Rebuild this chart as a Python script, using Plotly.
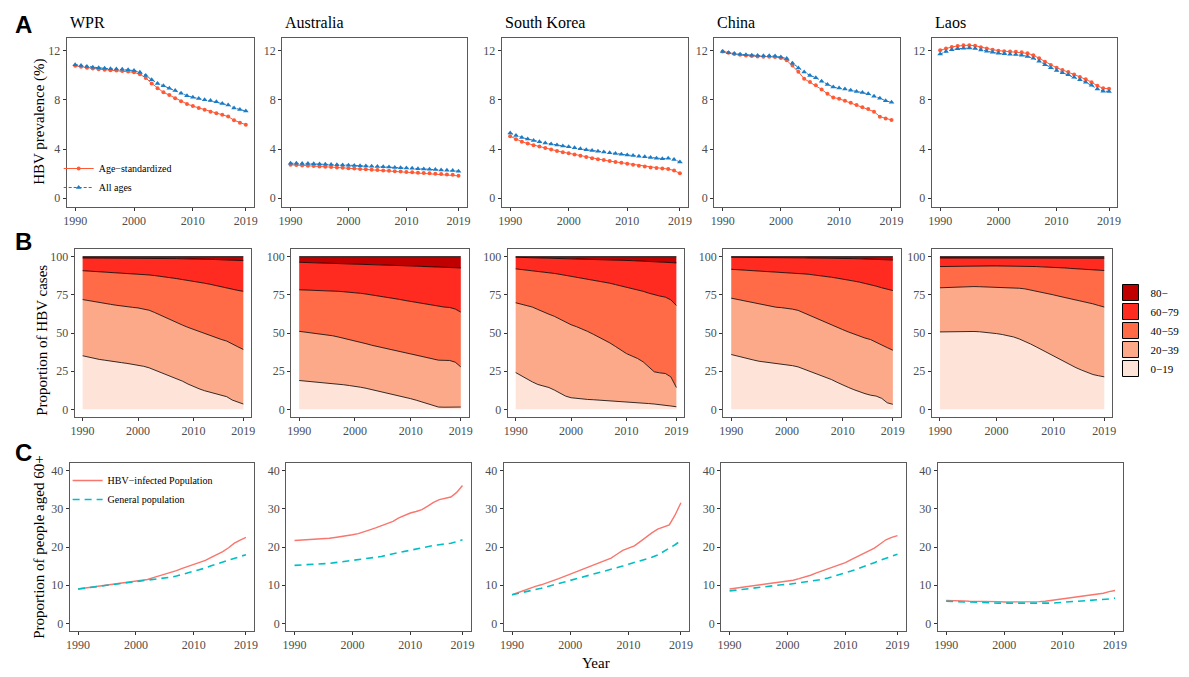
import numpy as np
import plotly.graph_objects as go

# The page body adds an 8px margin; figure sized so that it fits the 1189x677 window exactly.
OFF = 8
W, H = 1189 - OFF, 677 - OFF

years = list(range(1990, 2020))
regions = ["WPR", "Australia", "South Korea", "China", "Laos"]
x_ticks = [1990, 2000, 2010, 2019]

# ---------------- Row A: HBV prevalence (%) ----------------
prev_std = {
    "WPR": [10.78, 10.70, 10.62, 10.56, 10.51, 10.47, 10.43, 10.40, 10.37, 10.32, 10.25, 10.10, 9.80, 9.35, 8.95,
            8.62, 8.40, 8.15, 7.90, 7.68, 7.50, 7.35, 7.20, 7.05, 6.92, 6.80, 6.65, 6.35, 6.15, 5.98],
    "Australia": [2.72, 2.70, 2.67, 2.64, 2.62, 2.59, 2.56, 2.53, 2.50, 2.47, 2.44, 2.41, 2.38, 2.35, 2.32,
                  2.29, 2.26, 2.23, 2.20, 2.17, 2.14, 2.11, 2.08, 2.05, 2.02, 1.99, 1.96, 1.93, 1.90, 1.82],
    "South Korea": [5.05, 4.80, 4.60, 4.45, 4.32, 4.20, 4.08, 3.97, 3.85, 3.75, 3.65, 3.55, 3.45, 3.35, 3.25,
                    3.17, 3.10, 3.02, 2.95, 2.88, 2.80, 2.72, 2.65, 2.57, 2.50, 2.45, 2.42, 2.38, 2.25, 2.02],
    "China": [11.95, 11.85, 11.75, 11.68, 11.62, 11.58, 11.55, 11.53, 11.52, 11.50, 11.43, 11.23, 10.80, 10.30, 9.73,
              9.46, 9.20, 8.86, 8.50, 8.20, 8.10, 7.93, 7.77, 7.60, 7.40, 7.27, 7.05, 6.64, 6.50, 6.37],
    "Laos": [12.05, 12.20, 12.32, 12.40, 12.45, 12.46, 12.42, 12.30, 12.20, 12.10, 12.02, 11.98, 11.95, 11.92, 11.88,
             11.80, 11.65, 11.40, 11.12, 10.85, 10.62, 10.45, 10.28, 10.08, 9.88, 9.68, 9.45, 9.15, 8.95, 8.92],
}
prev_all = {
    "WPR": [10.88, 10.80, 10.72, 10.66, 10.62, 10.58, 10.55, 10.52, 10.50, 10.46, 10.40, 10.25, 10.00, 9.65, 9.35,
            9.15, 8.95, 8.78, 8.55, 8.35, 8.22, 8.12, 8.02, 7.95, 7.85, 7.72, 7.60, 7.35, 7.22, 7.10],
    "Australia": [2.85, 2.84, 2.83, 2.82, 2.80, 2.78, 2.77, 2.75, 2.73, 2.71, 2.69, 2.67, 2.65, 2.62, 2.60,
                  2.58, 2.55, 2.53, 2.50, 2.48, 2.46, 2.43, 2.40, 2.38, 2.35, 2.33, 2.30, 2.28, 2.25, 2.20],
    "South Korea": [5.30, 5.10, 4.95, 4.82, 4.70, 4.60, 4.50, 4.42, 4.33, 4.25, 4.18, 4.10, 4.02, 3.95, 3.88,
                    3.82, 3.76, 3.70, 3.64, 3.58, 3.52, 3.47, 3.42, 3.37, 3.32, 3.25, 3.22, 3.25, 3.15, 2.95],
    "China": [11.95, 11.85, 11.78, 11.72, 11.68, 11.65, 11.62, 11.60, 11.60, 11.58, 11.50, 11.37, 11.00, 10.60, 10.28,
              10.00, 9.82, 9.52, 9.27, 9.05, 8.97, 8.90, 8.80, 8.70, 8.60, 8.50, 8.30, 8.15, 7.93, 7.82],
    "Laos": [11.75, 11.95, 12.10, 12.18, 12.22, 12.23, 12.20, 12.08, 11.98, 11.88, 11.80, 11.76, 11.73, 11.70, 11.65,
             11.55, 11.40, 11.15, 10.88, 10.62, 10.40, 10.22, 10.05, 9.85, 9.65, 9.45, 9.20, 8.90, 8.72, 8.70],
}

# ---------------- Row B: cumulative share of HBV cases below age (%) ----------------
age_groups = ["0\u221219", "20\u221239", "40\u221259", "60\u221279", "80\u2212"]
age_colors = ["#FEE3D8", "#FCA98A", "#FF6A47", "#FF2B20", "#C00000"]
cum_below20 = {
    "WPR": [35.1, 34.2, 33.4, 32.7, 32.2, 31.8, 31.2, 30.6, 30.1, 29.5, 29.0, 28.2, 27.2, 25.8, 24.3,
            22.9, 21.6, 20.3, 18.5, 16.6, 14.8, 13.5, 12.2, 11.1, 10.2, 9.4, 8.3, 6.1, 4.6, 3.5],
    "Australia": [18.9, 18.6, 18.3, 18.0, 17.7, 17.4, 17.0, 16.5, 16.1, 15.6, 15.2, 14.5, 13.8, 13.0, 12.2,
                  11.3, 10.5, 9.6, 8.7, 7.8, 7.0, 6.0, 4.8, 3.6, 2.2, 1.5, 1.4, 1.4, 1.4, 1.5],
    "South Korea": [24.1, 22.0, 20.2, 18.0, 16.3, 15.3, 14.3, 12.6, 10.4, 8.7, 7.6, 7.1, 6.7, 6.5, 6.3,
                    6.1, 5.8, 5.5, 5.2, 4.9, 4.6, 4.4, 4.2, 4.0, 3.8, 3.5, 3.2, 2.8, 2.2, 1.7],
    "China": [35.9, 34.9, 34.0, 33.1, 32.3, 31.5, 31.0, 30.5, 30.1, 29.7, 29.3, 28.6, 27.8, 26.5, 25.2,
              23.9, 22.6, 21.3, 19.5, 17.7, 15.9, 14.4, 12.9, 11.5, 10.3, 9.3, 8.7, 7.2, 4.3, 3.3],
    "Laos": [50.7, 50.8, 50.9, 51.0, 51.1, 51.1, 51.0, 50.8, 50.5, 50.1, 49.6, 49.0, 48.3, 47.4, 46.1,
             44.6, 42.8, 40.9, 38.9, 36.9, 34.8, 32.8, 30.8, 28.9, 27.3, 25.7, 24.2, 22.8, 22.0, 21.3],
}
cum_below40 = {
    "WPR": [71.9, 71.2, 70.5, 69.9, 69.3, 68.8, 68.2, 67.6, 67.1, 66.8, 66.4, 65.7, 64.9, 63.4, 61.7,
            59.9, 58.3, 56.6, 55.2, 53.7, 52.3, 51.0, 49.8, 48.6, 47.2, 45.8, 44.7, 43.1, 41.0, 39.2],
    "Australia": [51.1, 50.6, 50.2, 49.8, 49.3, 48.9, 48.2, 47.4, 46.6, 45.8, 45.0, 44.0, 43.0, 42.0, 41.1,
                  40.2, 39.5, 38.7, 37.9, 37.1, 36.3, 35.5, 34.6, 33.7, 32.9, 32.2, 32.1, 32.0, 30.9, 27.8],
    "South Korea": [69.8, 68.9, 68.0, 67.0, 65.4, 63.7, 62.3, 60.9, 59.0, 57.2, 55.4, 54.1, 52.8, 51.0, 49.2,
                    47.4, 45.5, 43.5, 41.2, 38.8, 36.5, 34.9, 33.3, 31.1, 28.0, 24.6, 23.9, 23.5, 21.3, 14.3],
    "China": [72.8, 72.0, 71.2, 70.5, 69.8, 69.1, 68.2, 67.4, 66.9, 66.6, 66.3, 65.6, 64.8, 63.2, 61.5,
              59.8, 58.2, 56.5, 55.1, 53.6, 52.2, 50.7, 49.2, 47.8, 46.7, 45.7, 44.1, 42.0, 40.4, 38.7],
    "Laos": [79.6, 79.8, 80.0, 80.2, 80.3, 80.4, 80.4, 80.3, 80.2, 80.1, 80.0, 79.9, 79.8, 79.6, 79.3,
             78.9, 78.2, 77.5, 76.7, 75.9, 75.0, 74.1, 73.3, 72.4, 71.5, 70.7, 69.9, 69.1, 68.0, 67.0],
}
cum_below60 = {
    "WPR": [90.8, 90.6, 90.4, 90.2, 90.0, 89.8, 89.6, 89.4, 89.2, 89.0, 88.7, 88.4, 88.0, 87.6, 87.2,
            86.7, 86.2, 85.6, 85.0, 84.5, 83.9, 83.3, 82.6, 81.9, 81.0, 80.2, 79.4, 78.6, 77.9, 77.3],
    "Australia": [78.3, 78.2, 78.1, 78.0, 77.9, 77.8, 77.6, 77.3, 77.0, 76.8, 76.5, 76.0, 75.5, 75.0, 74.4,
                  73.9, 73.3, 72.6, 72.0, 71.3, 70.7, 70.1, 69.4, 68.7, 68.0, 67.4, 67.0, 66.7, 65.7, 63.7],
    "South Korea": [92.0, 91.6, 91.3, 90.9, 90.6, 90.2, 89.6, 89.0, 88.4, 87.8, 87.2, 86.5, 85.8, 85.2, 84.5,
                    83.9, 83.2, 82.6, 81.7, 80.9, 80.0, 79.2, 78.5, 77.3, 76.1, 75.0, 74.2, 73.5, 71.7, 68.0],
    "China": [91.7, 91.5, 91.3, 91.1, 90.9, 90.7, 90.5, 90.3, 90.1, 90.0, 89.8, 89.4, 89.1, 88.7, 88.4,
              88.0, 87.5, 87.0, 86.5, 85.9, 85.4, 84.7, 84.0, 83.3, 82.5, 81.7, 80.7, 79.6, 78.7, 77.8],
    "Laos": [93.5, 93.6, 93.6, 93.7, 93.7, 93.8, 93.8, 93.8, 93.9, 93.9, 93.9, 93.9, 93.8, 93.8, 93.8,
             93.7, 93.6, 93.5, 93.3, 93.2, 93.0, 92.8, 92.6, 92.3, 92.1, 91.9, 91.7, 91.4, 91.2, 90.9],
}
cum_below80 = {
    "WPR": [99.1, 99.1, 99.1, 99.0, 99.0, 99.0, 99.0, 99.0, 98.9, 98.9, 98.9, 98.9, 98.8, 98.8, 98.8,
            98.7, 98.7, 98.7, 98.6, 98.6, 98.5, 98.4, 98.3, 98.2, 98.1, 98.0, 97.9, 97.7, 97.6, 97.4],
    "Australia": [96.3, 96.2, 96.1, 96.0, 95.9, 95.8, 95.7, 95.6, 95.4, 95.3, 95.2, 95.1, 95.0, 94.8, 94.7,
                  94.6, 94.5, 94.3, 94.2, 94.0, 93.9, 93.8, 93.6, 93.5, 93.4, 93.2, 93.1, 93.0, 92.8, 92.6],
    "South Korea": [99.6, 99.5, 99.5, 99.4, 99.4, 99.3, 99.2, 99.2, 99.1, 99.0, 98.9, 98.8, 98.7, 98.6, 98.5,
                    98.4, 98.2, 98.0, 97.9, 97.7, 97.6, 97.4, 97.2, 97.1, 96.9, 96.7, 96.5, 96.3, 96.1, 95.9],
    "China": [99.6, 99.6, 99.5, 99.5, 99.5, 99.4, 99.4, 99.4, 99.3, 99.3, 99.3, 99.3, 99.2, 99.2, 99.1,
              99.1, 99.1, 99.0, 99.0, 98.9, 98.9, 98.8, 98.7, 98.6, 98.5, 98.4, 98.3, 98.1, 98.0, 97.8],
    "Laos": [99.1, 99.1, 99.1, 99.1, 99.1, 99.1, 99.1, 99.1, 99.1, 99.1, 99.0, 99.0, 99.0, 99.0, 99.0,
             99.0, 99.0, 99.0, 99.0, 99.0, 98.9, 98.9, 98.9, 98.9, 98.9, 98.9, 98.9, 98.9, 98.9, 98.9],
}

# ---------------- Row C: proportion of people aged 60+ (%) ----------------
aged_hbv = {
    "WPR": [9.0, 9.2, 9.4, 9.6, 9.9, 10.1, 10.3, 10.5, 10.7, 10.9, 11.0, 11.2, 11.5, 12.0, 12.4,
            12.8, 13.3, 13.8, 14.4, 14.9, 15.5, 16.0, 16.5, 17.3, 18.0, 18.8, 19.8, 21.0, 21.8, 22.5],
    "Australia": [21.7, 21.8, 21.9, 22.0, 22.05, 22.1, 22.3, 22.5, 22.7, 22.9, 23.2, 23.5, 23.9, 24.5, 25.0,
                  25.6, 26.1, 26.7, 27.6, 28.3, 28.9, 29.3, 29.8, 30.7, 31.7, 32.4, 32.8, 33.1, 34.3, 36.1],
    "South Korea": [7.5, 8.1, 8.6, 9.2, 9.7, 10.1, 10.6, 11.0, 11.7, 12.3, 12.9, 13.5, 14.2, 14.9, 15.5,
                    16.0, 16.5, 17.1, 18.1, 19.1, 19.7, 20.3, 21.4, 22.6, 23.7, 24.7, 25.3, 25.8, 28.4, 31.6],
    "China": [9.0, 9.2, 9.4, 9.7, 9.9, 10.1, 10.3, 10.5, 10.7, 10.9, 11.0, 11.3, 11.7, 12.1, 12.6,
              13.2, 13.7, 14.2, 14.8, 15.4, 15.9, 16.7, 17.5, 18.2, 18.9, 19.7, 20.8, 21.9, 22.5, 23.0],
    "Laos": [6.0, 6.0, 5.9, 5.9, 5.8, 5.8, 5.8, 5.7, 5.7, 5.7, 5.6, 5.6, 5.6, 5.6, 5.6,
             5.6, 5.7, 5.8, 6.0, 6.2, 6.4, 6.5, 6.7, 6.9, 7.1, 7.3, 7.6, 7.9, 8.3, 8.6],
}
aged_general = {
    "WPR": [9.0, 9.2, 9.3, 9.5, 9.7, 9.9, 10.1, 10.3, 10.5, 10.7, 10.8, 11.0, 11.2, 11.4, 11.6,
            11.8, 12.1, 12.4, 12.8, 13.2, 13.7, 14.1, 14.5, 15.1, 15.6, 16.2, 16.7, 17.2, 17.6, 18.0],
    "Australia": [15.2, 15.3, 15.35, 15.4, 15.45, 15.5, 15.7, 15.9, 16.1, 16.3, 16.5, 16.7, 16.9, 17.1, 17.3,
                  17.5, 17.9, 18.2, 18.6, 18.9, 19.3, 19.6, 19.9, 20.1, 20.4, 20.6, 20.8, 21.0, 21.4, 21.9],
    "South Korea": [7.5, 7.8, 8.2, 8.5, 8.9, 9.2, 9.6, 10.0, 10.5, 11.0, 11.4, 11.8, 12.2, 12.6, 13.0,
                    13.3, 13.7, 14.1, 14.6, 15.0, 15.5, 15.9, 16.3, 16.8, 17.3, 17.9, 18.7, 19.7, 20.6, 21.7],
    "China": [8.5, 8.7, 8.9, 9.1, 9.3, 9.5, 9.6, 9.8, 9.9, 10.1, 10.2, 10.4, 10.6, 10.8, 11.0,
              11.2, 11.5, 11.9, 12.3, 12.7, 13.2, 13.7, 14.2, 14.7, 15.3, 15.9, 16.5, 17.1, 17.6, 18.1],
    "Laos": [5.8, 5.7, 5.7, 5.6, 5.6, 5.5, 5.5, 5.4, 5.4, 5.3, 5.3, 5.3, 5.2, 5.2, 5.2,
             5.2, 5.2, 5.3, 5.3, 5.4, 5.5, 5.6, 5.6, 5.7, 5.8, 6.0, 6.1, 6.3, 6.4, 6.6],
}

# ---------------- layout geometry (window pixels) ----------------
col_px = {
    0: [(63, 252), (280, 466), (501, 689), (715, 902), (934, 1121)],
    1: [(71, 249), (289, 468), (507, 685), (724, 903), (934, 1116)],
    2: [(66, 252), (284, 470), (503, 690), (722, 908), (940, 1127)],
}
row_px = {0: (38, 207), 1: (249, 417), 2: (463, 631)}
y_ranges = {0: [-0.72, 13.05], 1: [-5, 105], 2: [-2, 42]}
y_ticks = {0: [0, 4, 8, 12], 1: [0, 25, 50, 75, 100], 2: [0, 10, 20, 30, 40]}


def px_x(p):
    return (p - OFF) / W


def px_y(p):
    return 1 - (p - OFF) / H


SERIF = "Liberation Serif"
RED_A, BLUE_A = "#FF5A36", "#1B7BC4"
RED_C, CYAN_C = "#F8766D", "#00BFC4"

fig = go.Figure()
layout = {}


def ax_names(r, c):
    n = r * 5 + c + 1
    return n, ("x" if n == 1 else f"x{n}"), ("y" if n == 1 else f"y{n}")


for r in range(3):
    for c in range(5):
        n, xa, ya = ax_names(r, c)
        x0, x1 = col_px[r][c]
        t0, t1 = row_px[r]
        common = dict(showline=True, mirror=True, linecolor="#5a5a5a", linewidth=1, showgrid=False,
                      zeroline=False, ticks="outside", ticklen=3, tickcolor="#333", tickwidth=1,
                      tickfont=dict(family=SERIF, size=12, color="#4d4d4d"))
        layout["xaxis" if n == 1 else f"xaxis{n}"] = dict(
            domain=[px_x(x0), px_x(x1)], range=[1988.55, 2020.45], tickvals=x_ticks,
            anchor=ya, **common)
        layout["yaxis" if n == 1 else f"yaxis{n}"] = dict(
            domain=[px_y(t1), px_y(t0)], range=y_ranges[r], tickvals=y_ticks[r],
            anchor=xa, **common)

# Row A traces
for c, reg in enumerate(regions):
    n, xa, ya = ax_names(0, c)
    fig.add_trace(go.Scatter(x=years, y=prev_std[reg], mode="lines+markers", name="Age\u2212standardized",
                             line=dict(color=RED_A, width=1), marker=dict(symbol="circle", size=4, color=RED_A),
                             xaxis=xa, yaxis=ya, showlegend=(c == 0), legend="legend"))
    fig.add_trace(go.Scatter(x=years, y=prev_all[reg], mode="lines+markers", name="All ages",
                             line=dict(color=BLUE_A, width=1, dash="3px,2px"),
                             marker=dict(symbol="triangle-up", size=5, color=BLUE_A),
                             xaxis=xa, yaxis=ya, showlegend=(c == 0), legend="legend"))

# Row B traces (stacked areas)
for c, reg in enumerate(regions):
    n, xa, ya = ax_names(1, c)
    cum = np.array([np.zeros(len(years)), cum_below20[reg], cum_below40[reg], cum_below60[reg],
                    cum_below80[reg], np.full(len(years), 100.0)])
    shares = np.diff(cum, axis=0)
    for g in range(5):
        fig.add_trace(go.Scatter(x=years, y=shares[g], mode="lines", stackgroup=f"s{c}",
                                 line=dict(color="black", width=0.8), fillcolor=age_colors[g],
                                 name=age_groups[g], xaxis=xa, yaxis=ya, showlegend=False))

# Row B legend entries
nB, xaB, yaB = ax_names(1, 4)
for g in range(4, -1, -1):
    fig.add_trace(go.Scatter(x=[None], y=[None], mode="markers", name=age_groups[g],
                             marker=dict(symbol="square", size=18, color=age_colors[g],
                                         line=dict(color="black", width=1)),
                             xaxis=xaB, yaxis=yaB, showlegend=True, legend="legend2"))

# Row C traces
for c, reg in enumerate(regions):
    n, xa, ya = ax_names(2, c)
    fig.add_trace(go.Scatter(x=years, y=aged_hbv[reg], mode="lines", name="HBV\u2212infected Population",
                             line=dict(color=RED_C, width=1.4), xaxis=xa, yaxis=ya,
                             showlegend=(c == 0), legend="legend3"))
    fig.add_trace(go.Scatter(x=years, y=aged_general[reg], mode="lines", name="General population",
                             line=dict(color=CYAN_C, width=1.6, dash="7px,5px"), xaxis=xa, yaxis=ya,
                             showlegend=(c == 0), legend="legend3"))

annotations = []
# Column titles
for c, reg in enumerate(regions):
    annotations.append(dict(text=reg, x=px_x(col_px[0][c][0] + 1), y=px_y(23), xref="paper", yref="paper",
                            xanchor="left", yanchor="middle", showarrow=False,
                            font=dict(family=SERIF, size=16, color="black")))
# Panel letters
for lab, ypx in [("A", 24), ("B", 241), ("C", 452)]:
    annotations.append(dict(text=f"<b>{lab}</b>", x=px_x(20), y=px_y(ypx), xref="paper", yref="paper",
                            xanchor="center", yanchor="middle", showarrow=False,
                            font=dict(family="Liberation Sans", size=24, color="black")))
# Y titles
for txt, xpx, ypx in [("HBV prevalence (%)", 35, 122), ("Proportion of HBV cases", 38, 340),
                      ("Proportion of people aged 60+", 35, 547)]:
    annotations.append(dict(text=txt, x=px_x(xpx), y=px_y(ypx), xref="paper", yref="paper",
                            xanchor="center", yanchor="middle", showarrow=False, textangle=-90,
                            font=dict(family=SERIF, size=15, color="black")))
annotations.append(dict(text="Year", x=px_x(596), y=px_y(663), xref="paper", yref="paper",
                        xanchor="center", yanchor="middle", showarrow=False,
                        font=dict(family=SERIF, size=15, color="black")))

fig.update_layout(
    width=W, height=H, margin=dict(l=0, r=0, t=0, b=0),
    paper_bgcolor="white", plot_bgcolor="white",
    annotations=annotations,
    legend=dict(x=px_x(55), y=px_y(154), xanchor="left", yanchor="top", bgcolor="rgba(0,0,0,0)",
                font=dict(family=SERIF, size=10, color="black"), tracegroupgap=0, traceorder="normal"),
    legend2=dict(x=px_x(1114), y=px_y(278), xanchor="left", yanchor="top", bgcolor="rgba(0,0,0,0)",
                 font=dict(family=SERIF, size=11, color="black"), tracegroupgap=0, traceorder="normal"),
    legend3=dict(x=px_x(64), y=px_y(466), xanchor="left", yanchor="top", bgcolor="rgba(0,0,0,0)",
                 font=dict(family=SERIF, size=10, color="black"), tracegroupgap=0, traceorder="normal"),
    **layout,
)

fig.write_html("out.html")
